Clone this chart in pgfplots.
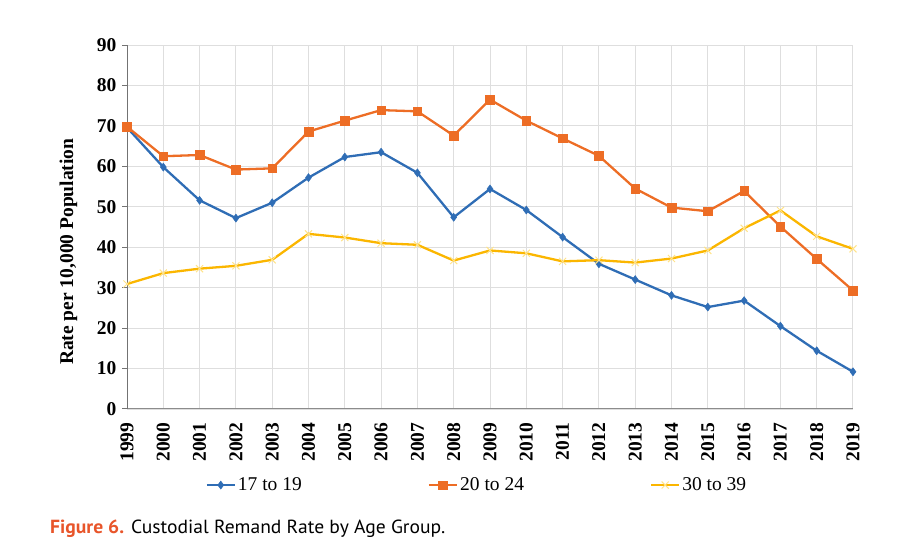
\documentclass[border=0pt]{standalone}
\usepackage{pgfplots}
\pgfplotsset{compat=1.18}
\usepackage{fontspec}
\setmainfont{Liberation Serif}
\newfontfamily\capfont{PT Sans}
\definecolor{cblue}{HTML}{2F6DB5}
\definecolor{corange}{HTML}{ED6D25}
\definecolor{cyellow}{HTML}{FBB600}
\definecolor{cyellowm}{HTML}{FFE38A}
\definecolor{cfig}{HTML}{E8552A}
\begin{document}
\begin{tikzpicture}
\useasboundingbox (-127pt,-147pt) rectangle (774pt,409pt);
\begin{axis}[
  at={(0pt,0pt)}, anchor=south west,
  scale only axis, width=726pt, height=364pt,
  xmin=1999, xmax=2019, ymin=0, ymax=90,
  xtick={1999,...,2019}, ytick={0,10,...,90},
  axis x line=bottom, axis y line=left,
  axis line style={draw=black!55, line width=1pt, -},
  x axis line style={draw=black!45},
  grid=major,
  major grid style={draw=black!13, line width=0.9pt},
  x tick style={draw=none},
  y tick style={draw=black!55, line width=1pt},
  major tick length=5pt,
  tick align=outside,
  /pgf/number format/assume math mode=true,
  /pgf/number format/1000 sep={},
  tick label style={font=\fontsize{19.5}{21}\selectfont\bfseries},
  xticklabel style={rotate=90, anchor=east},
  xticklabel shift=5pt,
  yticklabel shift=2pt,
  ylabel={Rate per 10,000 Population},
  ylabel style={font=\fontsize{19.5}{21}\selectfont\bfseries, at={(axis description cs:-0.0805,0.432)}, anchor=center, rotate=0},
  legend columns=3,
  legend style={draw=none, inner sep=0pt, at={(axis description cs:0.108,-0.209)}, anchor=west,
    font=\fontsize{19.5}{21}\selectfont,
    nodes={inner xsep=2pt, inner ysep=1pt},
    /tikz/every even column/.append style={column sep=124pt}},
  legend image code/.code={\draw[mark repeat=2,mark phase=2,#1] plot coordinates {(0pt,0pt)(14pt,0pt)(28pt,0pt)};},
  every axis plot/.append style={line width=2.3pt},
  clip=false,
]
\addplot[color=cblue, mark=diamond*, mark size=4pt, mark options={line width=0.5pt}] coordinates {
(1999,69.6)(2000,59.8)(2001,51.6)(2002,47.2)(2003,51.0)(2004,57.2)(2005,62.3)(2006,63.5)(2007,58.4)(2008,47.4)(2009,54.4)
(2010,49.2)(2011,42.5)(2012,35.9)(2013,32.0)(2014,28.1)(2015,25.2)(2016,26.8)(2017,20.5)(2018,14.4)(2019,9.2)};
\addlegendentry{17 to 19}
\addplot[color=corange, mark=square*, mark size=4.3pt, mark options={line width=0.5pt}] coordinates {
(1999,69.8)(2000,62.5)(2001,62.8)(2002,59.2)(2003,59.5)(2004,68.6)(2005,71.3)(2006,73.9)(2007,73.6)(2008,67.6)(2009,76.5)
(2010,71.3)(2011,66.9)(2012,62.6)(2013,54.5)(2014,49.8)(2015,48.9)(2016,53.9)(2017,45.1)(2018,37.1)(2019,29.3)};
\addlegendentry{20 to 24}
\addplot[color=cyellow, mark=x, mark size=5pt, mark options={draw=cyellowm, line width=1pt}] coordinates {
(1999,30.9)(2000,33.6)(2001,34.7)(2002,35.4)(2003,36.9)(2004,43.3)(2005,42.4)(2006,41.0)(2007,40.6)(2008,36.7)(2009,39.2)
(2010,38.5)(2011,36.5)(2012,36.8)(2013,36.2)(2014,37.2)(2015,39.2)(2016,44.7)(2017,49.1)(2018,42.7)(2019,39.6)};
\addlegendentry{30 to 39}
\end{axis}
\node[anchor=base west, inner sep=0pt, font=\capfont\fontsize{19}{21}\selectfont, xscale=1.03] at (-77pt,-124pt)
  {{\color{cfig}\bfseries Figure 6.} Custodial Remand Rate by Age Group.};
\end{tikzpicture}
\end{document}
